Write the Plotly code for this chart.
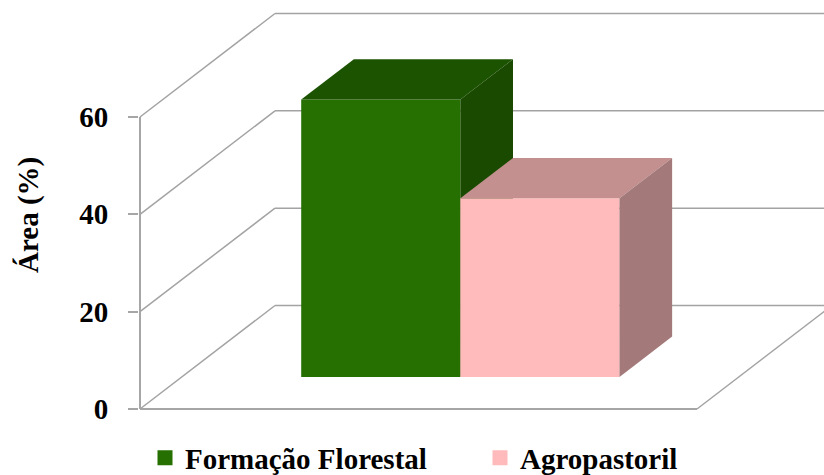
import plotly.graph_objects as go

# ---- data ----
categories = ["Formação Florestal", "Agropastoril"]
values = [57.0, 36.7]
tick_values = [0, 20, 40, 60]
tick_labels = ["0", "20", "40", "60"]
y_title = "Área (%)"

# ---- styles ----
front_colors = ["#257000", "#FFBBBB"]
top_colors = ["#1C5300", "#C38F8F"]
side_colors = ["#194A00", "#A37979"]
grid_color = "#A3A3A3"
axis_color = "#A6A6A6"
FONT = "Liberation Serif"

# ---- oblique projection geometry ----
W_PX = 557.0                 # floor width in pixels (u = 0..1)
V_PX = 292.0 / 60.0          # pixels per value unit
DX = 135.0 / W_PX            # depth offset in u
DY = 103.5 / V_PX            # depth offset in value units
D0, D1 = 0.31, 0.70          # bar depth (front, back) as fraction
BW = 1 / 3.5                 # bar width (gap width 150%)

L, T, B = 139, 4, 60
FIG_W, FIG_H = 824, 475
PLOT_W = FIG_W - L
PLOT_H = FIG_H - T - B
ZERO_PX = 409
x_range = [(L - 140) / W_PX, (FIG_W - 140) / W_PX]
y_range = [(ZERO_PX - (FIG_H - B)) / V_PX, (ZERO_PX - T) / V_PX]


def P(u, v, d):
    return u + d * DX, v + d * DY


fig = go.Figure()

# gridlines / walls
shapes = []
line_g = dict(color=grid_color, width=1.5)
line_a = dict(color=axis_color, width=2)
vmax = max(tick_values)
for tv in tick_values:
    x0, y0 = P(0, tv, 0)
    x1, y1 = P(0, tv, 1)
    x2, y2 = P(1.2, tv, 1)
    shapes.append(dict(type="line", xref="x", yref="y", x0=x0, y0=y0, x1=x1, y1=y1, line=line_g, layer="below"))
    shapes.append(dict(type="line", xref="x", yref="y", x0=x1, y0=y1, x1=x2, y1=y2, line=line_g, layer="below"))
# floor front and right edge
fx0, fy0 = P(0, 0, 0)
fx1, fy1 = P(1, 0, 0)
fx2, fy2 = P(1, 0, 1)
shapes.append(dict(type="line", xref="x", yref="y", x0=fx0, y0=fy0, x1=fx1, y1=fy1, line=line_a, layer="below"))
shapes.append(dict(type="line", xref="x", yref="y", x0=fx1, y0=fy1, x1=fx2, y1=fy2, line=line_g, layer="below"))
# front vertical axis line
ax0, ay0 = P(0, 0, 0)
ax1, ay1 = P(0, vmax, 0)
shapes.append(dict(type="line", xref="x", yref="y", x0=ax0, y0=ay0, x1=ax1, y1=ay1, line=line_a, layer="below"))


def poly(pts, color):
    xs = [p[0] for p in pts] + [pts[0][0]]
    ys = [p[1] for p in pts] + [pts[0][1]]
    return go.Scatter(x=xs, y=ys, fill="toself", fillcolor=color, mode="lines",
                      line=dict(width=0, color=color), showlegend=False, hoverinfo="skip")


for i, (cat, val) in enumerate(zip(categories, values)):
    ul = 0.75 * BW + i * BW
    ur = ul + BW
    front = [P(ul, 0, D0), P(ur, 0, D0), P(ur, val, D0), P(ul, val, D0)]
    top = [P(ul, val, D0), P(ur, val, D0), P(ur, val, D1), P(ul, val, D1)]
    side = [P(ur, 0, D0), P(ur, val, D0), P(ur, val, D1), P(ur, 0, D1)]
    fig.add_trace(poly(front, front_colors[i]))
    fig.add_trace(poly(top, top_colors[i]))
    fig.add_trace(poly(side, side_colors[i]))

# legend entries
for i, cat in enumerate(categories):
    fig.add_trace(go.Scatter(x=[None], y=[None], mode="markers", name=cat,
                             marker=dict(symbol="square", size=15, color=front_colors[i])))

fig.add_annotation(text=y_title, textangle=-90, xref="paper", yref="paper",
                   x=(29 - L) / PLOT_W, y=((FIG_H - B) - 215) / PLOT_H,
                   xanchor="center", yanchor="middle", showarrow=False,
                   font=dict(family=FONT, size=29, color="black", weight="bold"))

fig.update_layout(
    width=FIG_W, height=FIG_H,
    margin=dict(l=L, r=0, t=T, b=B, pad=0, autoexpand=False),
    paper_bgcolor="white", plot_bgcolor="white",
    shapes=shapes,
    showlegend=True,
    legend=dict(orientation="h", x=(145 - L) / PLOT_W, xanchor="left",
                y=((FIG_H - B) - 458) / PLOT_H, yanchor="middle",
                entrywidth=290, entrywidthmode="pixels",
                font=dict(family=FONT, size=29, color="black", weight="bold"),
                bgcolor="rgba(0,0,0,0)", borderwidth=0),
    xaxis=dict(range=x_range, visible=False, fixedrange=True),
    yaxis=dict(range=y_range, tickvals=tick_values, ticktext=tick_labels,
               ticks="outside", ticklen=10, tickwidth=2, tickcolor=axis_color,
               showgrid=False, zeroline=False, showline=False, fixedrange=True,
               ticklabelstandoff=14,
               tickfont=dict(family=FONT, size=29, color="black", weight="bold")),
)

fig.write_html("out.html")
